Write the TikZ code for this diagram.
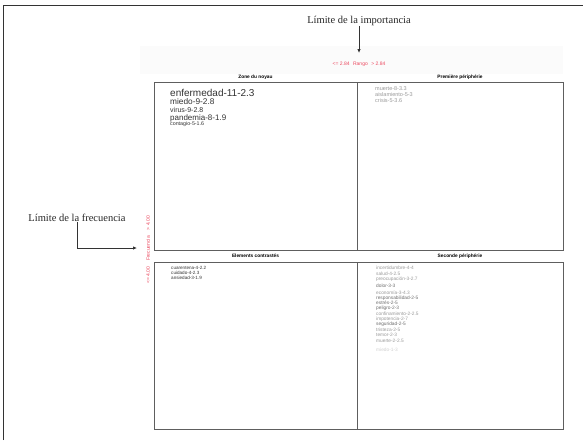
\documentclass[tikz,border=0pt]{standalone}
\usepackage{fontspec}
\setmainfont{Liberation Serif}
\setsansfont{Liberation Sans}
\usetikzlibrary{arrows.meta}
\definecolor{redlab}{HTML}{EC4A60}
\definecolor{darktxt}{HTML}{333333}
\definecolor{midtxt}{HTML}{6E6E6E}
\definecolor{lighttxt}{HTML}{9A9A9A}
\definecolor{paneledge}{HTML}{5E5E5E}
\tikzset{
  panel/.style={draw=paneledge, line width=1pt},
  ptitle/.style={font=\sffamily\bfseries\fontsize{4.8}{5}\selectfont, text=black, inner sep=0pt},
  ann/.style={font=\fontsize{10.5}{12}\selectfont, text=black!85, inner sep=0pt},
  redt/.style={font=\sffamily\fontsize{5}{6}\selectfont, text=redlab, inner sep=0pt},
  word/.style={anchor=west, inner sep=0pt, font=\sffamily\fontsize{#1}{#1}\selectfont},
  word/.default=5,
  pointer/.style={draw=black!80, line width=0.8pt, -{Latex[length=4pt,width=3.5pt]}}
}
\begin{document}
\begin{tikzpicture}[x=1pt,y=-1pt]
\useasboundingbox (0,0) rectangle (583,440);
\fill[white] (0,0) rectangle (583,440);
% outer frame (top and left)
\draw[line width=1.3pt, black!80] (3.5,440) -- (3.5,5.5) -- (583,5.5);
% faint plot background band
\fill[black!1.5] (140,46) rectangle (563,74);

% panels
\draw[panel] (154,82) rectangle (357,250);
\draw[panel] (357,82) rectangle (563,250);
\draw[panel] (154,262) rectangle (357,429);
\draw[panel] (357,262) rectangle (563,429);

% panel titles
\node[ptitle] (tzn) at (255.5,77) {Zone du noyau};
\node[ptitle] (tpp) at (460,77) {Première périphérie};
\node[ptitle] (tec) at (255.5,256) {Elements contrastés};
\node[ptitle] (tsp) at (460,256) {Seconde périphérie};

% range labels
\node[redt] (rng) at (359,64) {<= 2.84\hspace{0.7em}Rango\hspace{0.7em}> 2.84};
\node[redt, rotate=90] (frq) at (148,250) {<= 4.00\hspace{1.2em}Frecuencia\hspace{1.2em}> 4.00};

% annotations
\node[ann] (limi) at (359,21) {Límite de la importancia};
\coordinate (ai) at (359,53);
\draw[pointer] (limi.south) -- (ai);
\node[ann] (limf) at (77,218) {Límite de la frecuencia};
\coordinate (af) at (137,248);
\draw[pointer] (limf.south) |- (af);

% Zone du noyau
\begin{scope}[text=darktxt]
\node[word=10] (z1) at (170,93) {enfermedad-11-2.3};
\node[word=8.3] (z2) at (170,102) {miedo-9-2.8};
\node[word=7] (z3) at (170,110) {virus-9-2.8};
\node[word=8] (z4) at (170,118) {pandemia-8-1.9};
\node[word=5.3] (z5) at (170,124.5) {contagio-5-1.6};
\end{scope}

% Premiere peripherie
\begin{scope}[text=lighttxt]
\node[word=5.5] (p1) at (375,89) {muerte-8-3.3};
\node[word=5.5] (p2) at (375,95) {aislamiento-5-3};
\node[word=5.5] (p3) at (375,101) {crisis-5-3.6};
\end{scope}

% Elements contrastes
\begin{scope}[text=darktxt]
\node[word=4.6] (e1) at (171,268) {cuarentena-4-2.2};
\node[word=4.6] (e2) at (171,273) {cuidado-4-2.3};
\node[word=4.6] (e3) at (171,278) {ansiedad-3-1.9};
\end{scope}

% Seconde peripherie
\node[word=4.8, text=lighttxt] (s1) at (376,268) {incertidumbre-4-4};
\node[word=4.8, text=lighttxt] (s2) at (376,273.5) {salud-4-2.5};
\node[word=4.8, text=lighttxt] (s3) at (376,279.5) {preocupación-3-2.7};
\node[word=4.8, text=midtxt] (s4) at (376,286) {dolor-3-3};
\node[word=4.8, text=lighttxt] (s5) at (376,293) {economía-3-4.3};
\node[word=4.8, text=midtxt] (s6) at (376,298) {responsabilidad-2-5};
\node[word=4.8, text=midtxt] (s7) at (376,303) {estrés-2-5};
\node[word=4.8, text=midtxt] (s8) at (376,308) {peligro-2-3};
\node[word=4.8, text=lighttxt] (s9) at (376,313.5) {confinamiento-2-2.5};
\node[word=4.8, text=lighttxt] (s10) at (376,319) {impotencia-2-7};
\node[word=4.8, text=midtxt] (s11) at (376,324) {seguridad-2-5};
\node[word=4.8, text=lighttxt] (s12) at (376,329.5) {tristeza-2-5};
\node[word=4.8, text=lighttxt] (s13) at (376,335) {temor-2-3};
\node[word=4.8, text=lighttxt] (s14) at (376,341) {muerte-2-2.5};
\node[word=4.8, text=black!18] (s15) at (376,350) {miedo-1-3};
\end{tikzpicture}
\end{document}
